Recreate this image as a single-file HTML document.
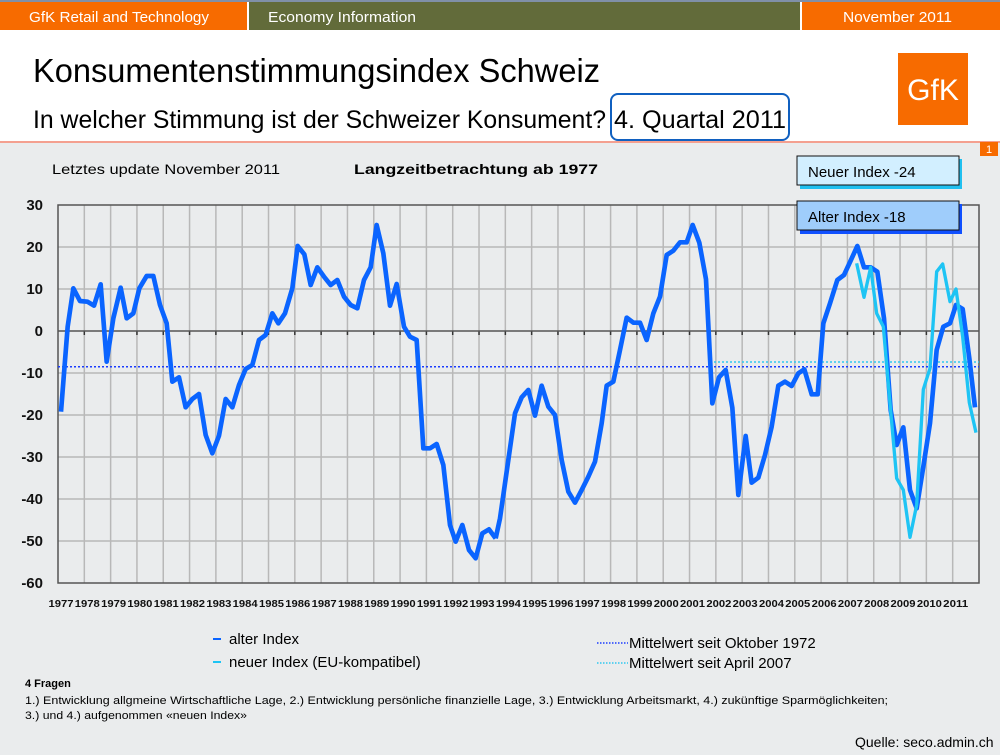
<!DOCTYPE html>
<html><head><meta charset="utf-8"><style>
html,body{margin:0;padding:0;width:1000px;height:755px;overflow:hidden;background:#fff}
svg{display:block}
text{font-family:"Liberation Sans",sans-serif}
</style></head><body>
<svg width="1000" height="755" viewBox="0 0 1000 755" xmlns="http://www.w3.org/2000/svg">
<rect x="0" y="0" width="1000" height="755" fill="#fff"/>
<rect x="0" y="143" width="1000" height="612" fill="#eaeced"/>
<line x1="0" y1="142" x2="1000" y2="142" stroke="#f4a090" stroke-width="2"/>
<rect x="0" y="0" width="1000" height="2" fill="#8090a8"/>
<rect x="0" y="2" width="247" height="28" fill="#f76b00"/>
<rect x="249" y="2" width="551" height="28" fill="#626b3a"/>
<rect x="802" y="2" width="198" height="28" fill="#f76b00"/>
<text x="29" y="22" font-size="15" fill="#fff" textLength="180" lengthAdjust="spacingAndGlyphs">GfK Retail and Technology</text>
<text x="268" y="22" font-size="15" fill="#fff" textLength="148" lengthAdjust="spacingAndGlyphs">Economy Information</text>
<text x="843" y="22" font-size="15" fill="#fff" textLength="109" lengthAdjust="spacingAndGlyphs">November 2011</text>
<text x="33" y="82" font-size="33" fill="#000" textLength="567" lengthAdjust="spacingAndGlyphs">Konsumentenstimmungsindex Schweiz</text>
<text x="33" y="128" font-size="25" fill="#000" textLength="573" lengthAdjust="spacingAndGlyphs">In welcher Stimmung ist der Schweizer Konsument?</text>
<rect x="611" y="94" width="178" height="46" rx="7" fill="none" stroke="#1060c0" stroke-width="2"/>
<text x="614" y="128" font-size="25" fill="#000" textLength="172" lengthAdjust="spacingAndGlyphs">4. Quartal 2011</text>
<rect x="898" y="53" width="70" height="72" fill="#f76b00"/>
<text x="933" y="100" font-size="30" fill="#fff" text-anchor="middle">GfK</text>
<rect x="980" y="142" width="18" height="14" fill="#f76b00"/>
<text x="989" y="153" font-size="11" fill="#fff" text-anchor="middle">1</text>
<text x="52" y="174" font-size="14" fill="#000" textLength="228" lengthAdjust="spacingAndGlyphs">Letztes update November 2011</text>
<text x="354" y="174" font-size="14" font-weight="bold" fill="#000" textLength="244" lengthAdjust="spacingAndGlyphs">Langzeitbetrachtung ab 1977</text>
<g stroke="#b8b8b8" stroke-width="1.5">
<line x1="58" y1="247" x2="979" y2="247"/><line x1="58" y1="289" x2="979" y2="289"/>
<line x1="58" y1="373" x2="979" y2="373"/><line x1="58" y1="415" x2="979" y2="415"/>
<line x1="58" y1="457" x2="979" y2="457"/><line x1="58" y1="499" x2="979" y2="499"/>
<line x1="58" y1="541" x2="979" y2="541"/>
</g>
<g id="vg" stroke="#b8b8b8" stroke-width="1.5"></g>
<rect x="58" y="205" width="921" height="378" fill="none" stroke="#555" stroke-width="1.5"/>
<line x1="58" y1="331" x2="979" y2="331" stroke="#555" stroke-width="1.5"/>
<g font-size="15" font-weight="bold" text-anchor="end" fill="#111">
<text x="43" y="210">30</text><text x="43" y="252">20</text><text x="43" y="294">10</text>
<text x="43" y="336">0</text><text x="43" y="378">-10</text><text x="43" y="420">-20</text>
<text x="43" y="462">-30</text><text x="43" y="504">-40</text><text x="43" y="546">-50</text>
<text x="43" y="588">-60</text>
</g>
<g id="xl" font-size="10.5" font-weight="bold" fill="#111" text-anchor="middle"></g>
<line x1="58" y1="366.7" x2="979" y2="366.7" stroke="#1a3cff" stroke-width="1.5" stroke-dasharray="2,2"/>
<line x1="714" y1="362" x2="979" y2="362" stroke="#30c8f0" stroke-width="1.5" stroke-dasharray="2,2"/>
<g transform="translate(0,190) scale(0.33333)" fill="none" stroke="#0a64ff" stroke-width="14" stroke-linejoin="round">
<polyline points="183,665 203,410 220,295 240,333 262,335 282,347 302,283 320,515 340,385 362,293 380,385 400,370 418,295 440,258 460,258 480,345 500,400 517,575 537,562 557,652 577,627 597,612 617,735 637,790 657,737 677,627 697,652 717,585 737,537 757,525 777,450 797,435 817,370 835,400 855,370 877,295 893,168 913,193 932,285 952,232 972,260 992,285 1012,270 1032,320 1052,345 1072,355 1092,270 1112,232 1130,105 1150,190 1170,347 1190,282 1212,410 1230,440 1250,450 1270,775 1290,775 1310,762 1330,825 1350,1005 1367,1055 1387,1005 1407,1080 1427,1105 1447,1030 1467,1018 1487,1045"/>
</g>
<g transform="translate(500,190) scale(0.33333)" fill="none" stroke-linejoin="round">
<polyline stroke="#0a64ff" stroke-width="14" points="-13,1045 0,985 25,810 45,670 65,622 85,600 105,677 125,587 145,650 165,675 185,810 205,905 225,938 245,900 265,860 285,815 305,700 320,587 340,575 360,480 380,383 400,398 420,398 440,450 460,370 480,320 500,195 520,182 540,157 560,157 578,105 598,158 618,268 637,640 657,562 677,540 697,653 715,915 737,738 755,878 775,863 795,795 815,710 835,587 855,575 875,588 895,550 913,538 935,613 953,613 970,400 990,340 1012,270 1032,255 1052,212 1072,168 1092,232 1112,232 1132,245 1152,385 1172,660 1190,765 1210,712 1230,900 1250,955 1270,830 1290,700 1310,480 1330,410 1350,400 1368,345 1388,357 1408,505 1425,652"/>
<polyline stroke="#1ec4f4" stroke-width="10" points="1070,220 1092,322 1112,232 1130,370 1150,410 1170,640 1190,865 1210,900 1230,1042 1250,945 1270,598 1290,535 1310,245 1328,222 1350,335 1368,297 1388,440 1408,638 1428,728"/>
</g>
<rect x="800" y="159" width="162" height="30" fill="#20c0f0"/>
<rect x="797" y="156" width="162" height="29" fill="#d2efff" stroke="#111" stroke-width="1"/>
<text x="808" y="177" font-size="15" fill="#000">Neuer Index -24</text>
<rect x="800" y="204" width="162" height="30" fill="#1050ff"/>
<rect x="797" y="201" width="162" height="29" fill="#9fcdfb" stroke="#111" stroke-width="1"/>
<text x="808" y="222" font-size="15" fill="#000">Alter Index -18</text>
<line x1="213" y1="639" x2="221" y2="639" stroke="#0a64ff" stroke-width="2"/>
<text x="229" y="644" font-size="15" fill="#000">alter Index</text>
<line x1="213" y1="662" x2="221" y2="662" stroke="#1ec4f4" stroke-width="2"/>
<text x="229" y="667" font-size="15" fill="#000">neuer Index (EU-kompatibel)</text>
<line x1="597" y1="643" x2="628" y2="643" stroke="#1a3cff" stroke-width="1.5" stroke-dasharray="1.5,1.5"/>
<text x="629" y="648" font-size="15" fill="#000">Mittelwert seit Oktober 1972</text>
<line x1="597" y1="663" x2="628" y2="663" stroke="#30c8f0" stroke-width="1.5" stroke-dasharray="1.5,1.5"/>
<text x="629" y="668" font-size="15" fill="#000">Mittelwert seit April 2007</text>
<text x="25" y="687" font-size="11" font-weight="bold" fill="#000">4 Fragen</text>
<text x="25" y="704" font-size="11" fill="#000" textLength="863" lengthAdjust="spacingAndGlyphs">1.) Entwicklung allgmeine Wirtschaftliche Lage, 2.) Entwicklung persönliche finanzielle Lage, 3.) Entwicklung Arbeitsmarkt, 4.) zukünftige Sparmöglichkeiten;</text>
<text x="25" y="719" font-size="11" fill="#000" textLength="222" lengthAdjust="spacingAndGlyphs">3.)  und 4.) aufgenommen «neuen Index»</text>
<text x="855" y="747" font-size="14" fill="#000">Quelle: seco.admin.ch</text>
<script>
var vg=document.getElementById('vg'),xl=document.getElementById('xl'),ns='http://www.w3.org/2000/svg';
for(var k=1;k<35;k++){var x=58+26.314*k;var l=document.createElementNS(ns,'line');l.setAttribute('x1',x);l.setAttribute('x2',x);l.setAttribute('y1',205);l.setAttribute('y2',583);vg.appendChild(l);
var t=document.createElementNS(ns,'line');t.setAttribute('x1',x);t.setAttribute('x2',x);t.setAttribute('y1',331);t.setAttribute('y2',335);t.setAttribute('stroke','#333');vg.appendChild(t);}
for(var k=0;k<35;k++){var tx=document.createElementNS(ns,'text');tx.setAttribute('x',61+26.314*k);tx.setAttribute('y',607);tx.setAttribute('textLength','25');tx.setAttribute('lengthAdjust','spacingAndGlyphs');tx.textContent=String(1977+k);xl.appendChild(tx);}
</script>
</svg>
</body></html>
